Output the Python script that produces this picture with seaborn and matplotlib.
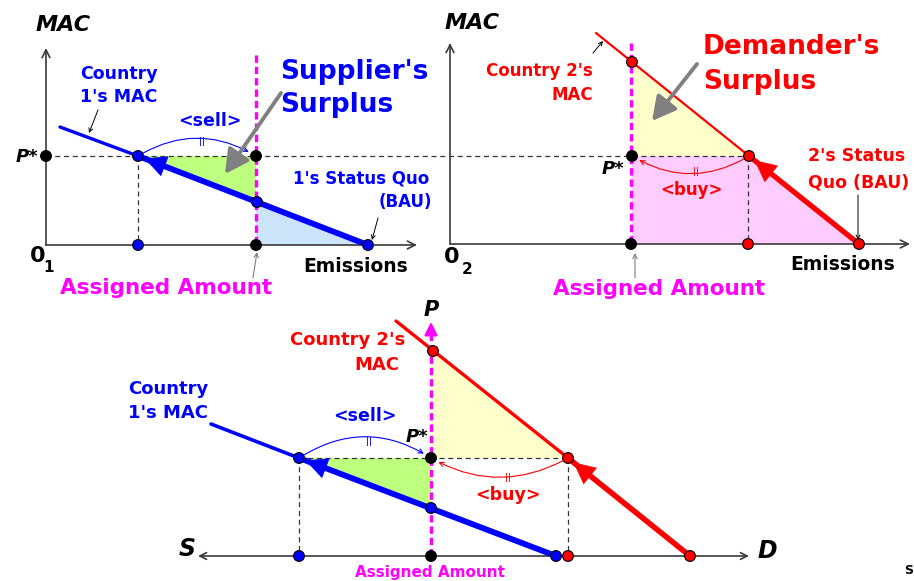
import matplotlib
matplotlib.use("Agg")
import matplotlib.pyplot as plt
import seaborn as sns
import pandas as pd

sns.set_theme(style="white")
plt.rcParams["font.family"] = ["DejaVu Sans"]

BLUE, RED, MAG, GREY, AXC = "#0000FF", "#FF0000", "#FF00FF", "#808080", "#3a3a3a"
GREEN_F, LBLUE_F, YEL_F, PINK_F = "#BFFF80", "#CCE4FA", "#FFFFCC", "#FFCCFF"

# ---------------- data (canvas coordinates, y grows downward) ----------------
p_star_top = 156            # equilibrium price level, top panels
p_star_bot = 458            # equilibrium price level, bottom panel

# Panel 1: Country 1 (supplier)
p1_origin = [46, 245]
p1_mac_thin_x = [60, 138];   p1_mac_thin_y = [127, 156]
p1_mac_thick_x = [368, 138]; p1_mac_thick_y = [245, 156]
p1_assigned_x = 256
p1_green_x = [138, 256, 256]; p1_green_y = [156, 156, 202]
p1_blue_x = [256, 256, 368];  p1_blue_y = [202, 245, 245]

# Panel 2: Country 2 (demander)
p2_origin = [450, 244]
p2_mac_thin_x = [596, 749];  p2_mac_thin_y = [33, 156]
p2_mac_thick_x = [859, 749]; p2_mac_thick_y = [244, 156]
p2_assigned_x = 631
p2_yellow_x = [632, 632, 749]; p2_yellow_y = [62, 156, 156]
p2_pink_x = [632, 749, 859, 632]; p2_pink_y = [156, 156, 244, 244]

# Panel 3: combined
p3_axis_y = 556
p3_axis_x = [198, 749]
p3_mac1_thin_x = [211, 299];  p3_mac1_thin_y = [424, 458]
p3_mac1_thick_x = [299, 556]; p3_mac1_thick_y = [458, 556]
p3_mac2_thin_x = [396, 568];  p3_mac2_thin_y = [321, 458]
p3_mac2_thick_x = [690, 568]; p3_mac2_thick_y = [556, 458]
p3_assigned_x = 431
p3_green_x = [299, 431, 431]; p3_green_y = [458, 458, 508]
p3_yellow_x = [431, 431, 568]; p3_yellow_y = [351, 458, 458]

# marker points
pts_x = [138, 138, 257, 368, 46, 256, 256,
         632, 749, 748, 859, 632, 631,
         299, 299, 431, 556, 431, 431, 433, 568, 568, 690]
pts_y = [156, 245, 202, 245, 156, 156, 245,
         62, 156, 244, 244, 156, 244,
         458, 556, 508, 556, 458, 556, 351, 458, 556, 556]
pts_kind = ["c1", "c1", "c1", "c1", "aa", "aa", "aa",
            "c2", "c2", "c2", "c2", "aa", "aa",
            "c1", "c1", "c1", "c1", "aa", "aa", "c2", "c2", "c2", "c2"]

# dashed guide segments
guide_x = [[46, 749], [138, 138], [748, 748], [299, 568], [299, 299], [568, 568]]
guide_y = [[156, 156], [156, 245], [156, 244], [458, 458], [458, 556], [458, 556]]

# ---------------- figure ----------------
fig = plt.figure(figsize=(9.14, 5.81), dpi=100)
ax = fig.add_axes([0, 0, 1, 1])


def line(x, y, color, lw, ls="-", z=3):
    sns.lineplot(x=x, y=y, ax=ax, color=color, linewidth=lw, linestyle=ls,
                 sort=False, estimator=None, zorder=z, legend=False)


def arrow(tip, tail, color, style="->", lw=0.8, ms=10, sa=0, sb=0, conn="arc3", z=4):
    ax.annotate("", xy=tip, xytext=tail,
                arrowprops=dict(arrowstyle=style, color=color, lw=lw, mutation_scale=ms,
                                shrinkA=sa, shrinkB=sb, connectionstyle=conn),
                zorder=z)


def head(tip, tail, color):
    arrow(tip, tail, color, style="-|>,head_length=0.45,head_width=0.22",
          lw=0.5, ms=33, sb=5, z=4)


# fills
ax.fill(p1_green_x, p1_green_y, color=GREEN_F, zorder=1, lw=0)
ax.fill(p1_blue_x, p1_blue_y, color=LBLUE_F, zorder=1, lw=0)
ax.fill(p2_yellow_x, p2_yellow_y, color=YEL_F, zorder=1, lw=0)
ax.fill(p2_pink_x, p2_pink_y, color=PINK_F, zorder=1, lw=0)
ax.fill(p3_green_x, p3_green_y, color=GREEN_F, zorder=1, lw=0)
ax.fill(p3_yellow_x, p3_yellow_y, color=YEL_F, zorder=1, lw=0)

# axes
for (ox, oy), xt, yt in [(p1_origin, 417, 48), (p2_origin, 910, 43)]:
    arrow((xt, oy), (ox, oy), AXC, style="->", lw=1.2, ms=14, z=2)
    arrow((ox, yt), (ox, oy), AXC, style="->", lw=1.2, ms=14, z=2)
arrow((p3_axis_x[1], p3_axis_y), (p3_axis_x[0], p3_axis_y), AXC, style="<->", lw=1.2, ms=12, z=2)

# dashed guides
for gx, gy in zip(guide_x, guide_y):
    line(gx, gy, "#333333", 0.9, ls=(0, (4, 3)), z=2)

# assigned amount lines
line([p1_assigned_x, p1_assigned_x], [55, 245], MAG, 2.4, ls=(0, (2.2, 1.2)), z=3.5)
line([p2_assigned_x, p2_assigned_x], [43, 244], MAG, 2.4, ls=(0, (2.2, 1.2)), z=3.5)
line([p3_assigned_x, p3_assigned_x], [556, 334], MAG, 2.4, ls=(0, (2.2, 1.2)), z=3.5)
arrow((p3_assigned_x, 322), (p3_assigned_x, 340), MAG,
      style="-|>,head_length=0.5,head_width=0.25", lw=1.5, ms=16, z=3.5)

# MAC curves
line(p1_mac_thin_x, p1_mac_thin_y, BLUE, 2.4)
line(p1_mac_thick_x, p1_mac_thick_y, BLUE, 4.2)
head((138, 156), (170, 168.3), BLUE)
line(p2_mac_thin_x, p2_mac_thin_y, RED, 1.6)
line(p2_mac_thick_x, p2_mac_thick_y, RED, 3.8)
head((749, 156), (774, 176), RED)
line(p3_mac1_thin_x, p3_mac1_thin_y, BLUE, 2.6)
line(p3_mac1_thick_x, p3_mac1_thick_y, BLUE, 4.2)
head((299, 458), (331, 470.2), BLUE)
line(p3_mac2_thin_x, p3_mac2_thin_y, RED, 2.4)
line(p3_mac2_thick_x, p3_mac2_thick_y, RED, 4.0)
head((568, 458), (593, 478.3), RED)

# trade arcs
arrow((256, 156), (138, 156), BLUE, lw=0.8, ms=8, sa=4, sb=6, conn="arc3,rad=-0.3")
arrow((632, 156), (749, 156), RED, lw=0.8, ms=8, sa=4, sb=6, conn="arc3,rad=-0.3")
arrow((431, 458), (299, 458), BLUE, lw=0.8, ms=8, sa=4, sb=6, conn="arc3,rad=-0.32")
arrow((431, 458), (568, 458), RED, lw=0.8, ms=8, sa=4, sb=6, conn="arc3,rad=-0.28")

# surplus pointers
arrow((225, 174), (281, 93), GREY, style="-|>,head_length=0.6,head_width=0.32", lw=2.8, ms=24)
arrow((652, 121), (697, 64), GREY, style="-|>,head_length=0.6,head_width=0.32", lw=2.8, ms=24)
# small pointers
arrow((89, 133), (98, 110), "black", lw=0.7, ms=7)
arrow((372, 240), (378, 218), "black", lw=0.7, ms=7)
arrow((603, 41), (593, 53), "black", lw=0.7, ms=7)
arrow((858, 240), (858, 195), "black", lw=0.7, ms=7)
arrow((257, 252), (253, 278), GREY, lw=0.8, ms=8)
arrow((635, 253), (635, 278), GREY, lw=0.8, ms=8)

# points
pts = pd.DataFrame({"x": pts_x, "y": pts_y, "kind": pts_kind})
sns.scatterplot(data=pts, x="x", y="y", hue="kind", ax=ax,
                palette={"c1": BLUE, "c2": RED, "aa": "black"},
                s=60, edgecolor="black", linewidth=0.8, zorder=6, legend=False)

# ---------------- text ----------------
B = dict(fontweight="bold")
BI = dict(fontweight="heavy", fontstyle="italic")


def t(x, y, s, color="black", size=12, ha="center", va="center", style=B):
    ax.text(x, y, s, color=color, fontsize=size, ha=ha, va=va, zorder=7, **style)


# panel 1
t(63, 25, "MAC", size=16, style=BI)
t(27, 157, "P*", size=13, style=BI)
t(38, 256, "0", size=16)
t(49, 268, "1", size=11)
t(119, 74, "Country", BLUE, 12.5)
t(119, 97, "1's MAC", BLUE, 12.5)
t(210, 121, "<sell>", BLUE, 12.5)
t(280, 72, "Supplier's", BLUE, 19, ha="left")
t(280, 105, "Surplus", BLUE, 19, ha="left")
t(361, 179, "1's Status Quo", BLUE, 12)
t(405, 202, "(BAU)", BLUE, 12)
t(356, 267, "Emissions", "black", 13.5)
t(166, 288, "Assigned Amount", MAG, 15.5)
t(202, 142, "||", BLUE, 6)

# panel 2
t(472, 23, "MAC", size=16, style=BI)
t(593, 71, "Country 2's", RED, 12, ha="right")
t(593, 95, "MAC", RED, 12, ha="right")
t(703, 47, "Demander's", RED, 19, ha="left")
t(703, 82, "Surplus", RED, 19, ha="left")
t(613, 169, "P*", size=13, style=BI)
t(692, 190, "<buy>", RED, 12)
t(696, 172, "||", RED, 6)
t(808, 156, "2's Status", RED, 12.5, ha="left")
t(808, 182, "Quo (BAU)", RED, 12.5, ha="left")
t(843, 264, "Emissions", "black", 13.5)
t(452, 257, "0", size=16)
t(467, 270, "2", size=11)
t(659, 289, "Assigned Amount", MAG, 15.5)

# panel 3
t(431, 310, "P", size=15, style=BI)
t(348, 340, "Country 2's", RED, 13)
t(377, 365, "MAC", RED, 13)
t(208, 389, "Country", BLUE, 13, ha="right")
t(208, 413, "1's MAC", BLUE, 13, ha="right")
t(365, 416, "<sell>", BLUE, 12.5)
t(369, 442, "||", BLUE, 6)
t(417, 437, "P*", size=13, style=BI)
t(508, 495, "<buy>", RED, 12.5)
t(508, 477, "||", RED, 6)
t(187, 549, "S", size=17, style=BI)
t(767, 551, "D", size=17, style=BI)
t(430, 572, "Assigned Amount", MAG, 11)
t(913, 570, "S", size=9, ha="right")

ax.set_xlim(0, 914)
ax.set_ylim(581, 0)
ax.axis("off")
fig.savefig("out.png", dpi=100, facecolor="white")
